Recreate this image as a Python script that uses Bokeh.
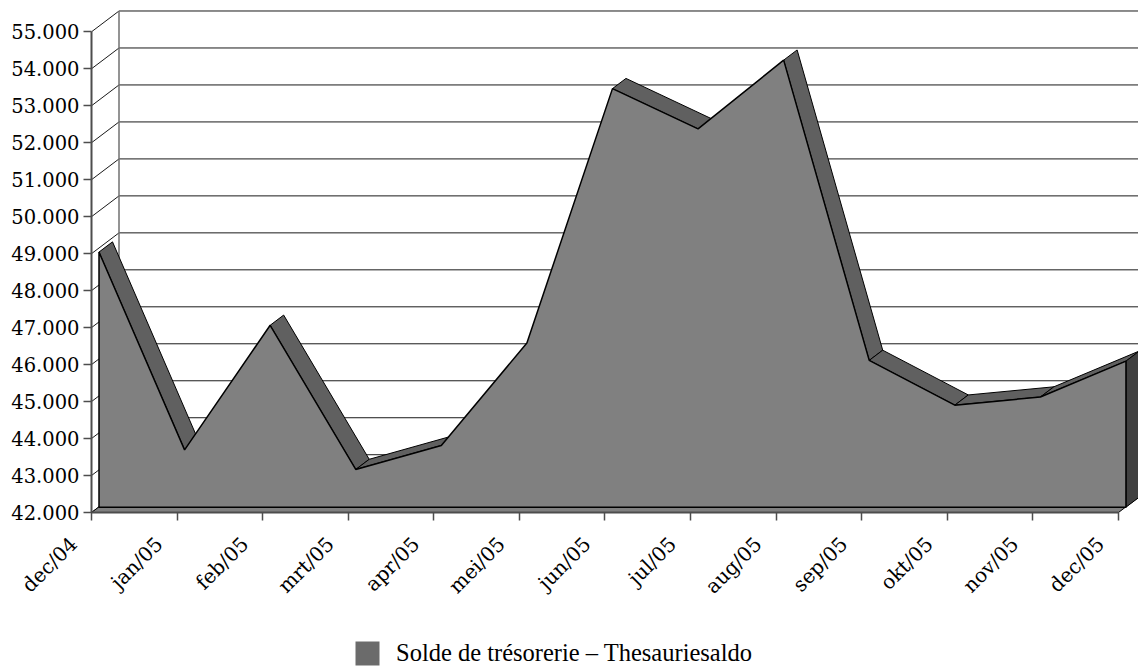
import math
from bokeh.plotting import figure
from bokeh.models import (Range1d, FixedTicker, CustomJSTickFormatter,
                          Legend, LegendItem)
from bokeh.embed import file_html
from bokeh.resources import INLINE

# ---------------- data ----------------
months = ["dec/04", "jan/05", "feb/05", "mrt/05", "apr/05", "mei/05", "jun/05",
          "jul/05", "aug/05", "sep/05", "okt/05", "nov/05", "dec/05"]
saldo = [48900, 43550, 46920, 43020, 43670, 46440, 53320,
         52230, 54090, 45970, 44760, 44980, 45950]
y_ticks = [42000, 43000, 44000, 45000, 46000, 47000, 48000,
           49000, 50000, 51000, 52000, 53000, 54000, 55000]
series_label = "Solde de trésorerie – Thesauriesaldo"

# ---------------- geometry (screen px) ----------------
PX_PER_CAT = 85.58       # px per category
PX_PER_VAL = 0.036977    # px per value unit
AXIS_X = 91              # screen column of the value axis
AXIS_Y = 512             # screen row of the category axis
WIDTH = 1138
HEIGHT = 666


def off(dx_px, dy_px):
    return dx_px / PX_PER_CAT, dy_px / PX_PER_VAL


WALL = off(27.5, 20.8)     # depth of the whole 3-D box
GAP = off(7.5, 5.3)        # gap between front plane and area front face
DEPTH = off(13.5, 10.2)    # thickness of the area

n = len(months)
y0 = y_ticks[0]
ytop = y0 + AXIS_Y / PX_PER_VAL
ybottom = y0 - (HEIGHT - AXIS_Y) / PX_PER_VAL
xstart = -AXIS_X / PX_PER_CAT
xend = (WIDTH - AXIS_X) / PX_PER_CAT

p = figure(width=WIDTH, height=HEIGHT,
           x_range=Range1d(xstart, xend), y_range=Range1d(ybottom, ytop),
           output_backend="svg", toolbar_location=None,
           min_border_left=0, min_border_right=0, min_border_top=0,
           min_border_bottom=0)
p.outline_line_color = None
p.grid.visible = False
p.background_fill_color = "white"
p.border_fill_color = "white"

LINE = "#1a1a1a"

# back wall gridlines
gy = [v + WALL[1] for v in y_ticks]
p.segment(x0=[WALL[0]] * len(y_ticks), y0=gy, x1=[xend + 1] * len(y_ticks), y1=gy,
          line_color=LINE, line_width=1)
# side wall diagonals
p.segment(x0=[0] * len(y_ticks), y0=y_ticks, x1=[WALL[0]] * len(y_ticks), y1=gy,
          line_color=LINE, line_width=1)
# back wall left edge
p.segment(x0=[WALL[0]], y0=[gy[0]], x1=[WALL[0]], y1=[gy[-1]],
          line_color="#707070", line_width=1.5)

# floor
p.patch(x=[0, n - 1, n - 1 + WALL[0], WALL[0]],
        y=[y0, y0, y0 + WALL[1], y0 + WALL[1]],
        fill_color="#808080", line_color="black", line_width=1)

# area front points
fx = [i + GAP[0] for i in range(n)]
fy = [v + GAP[1] for v in saldo]
base = y0 + GAP[1]

# top strips (only faces turned to the viewer)
depth_slope = 10.2 / 13.5
sx, sy = [], []
for i in range(n - 1):
    rise = (saldo[i + 1] - saldo[i]) * PX_PER_VAL / PX_PER_CAT
    if rise < depth_slope:
        sx.append([fx[i], fx[i + 1], fx[i + 1] + DEPTH[0], fx[i] + DEPTH[0]])
        sy.append([fy[i], fy[i + 1], fy[i + 1] + DEPTH[1], fy[i] + DEPTH[1]])
p.patches(xs=sx, ys=sy, fill_color="#606060", line_color="black", line_width=1)

# right end face
p.patch(x=[fx[-1], fx[-1], fx[-1] + DEPTH[0], fx[-1] + DEPTH[0]],
        y=[base, fy[-1], fy[-1] + DEPTH[1], base + DEPTH[1]],
        fill_color="#404040", line_color="black", line_width=1)

# front face
p.patch(x=[fx[0]] + fx + [fx[-1]], y=[base] + fy + [base],
        fill_color="#808080", line_color="black", line_width=1.5)

# ---------------- axes ----------------
yax = p.yaxis[0]
yax.fixed_location = 0
yax.ticker = FixedTicker(ticks=y_ticks)
yax.formatter = CustomJSTickFormatter(code="""
const s = Math.round(tick).toString();
return s.length > 3 ? s.slice(0, -3) + '.' + s.slice(-3) : s;
""")
yax.bounds = (y_ticks[0], y_ticks[-1])
yax.axis_line_color = "#4d4d4d"
yax.axis_line_width = 2
yax.major_tick_line_color = "#4d4d4d"
yax.major_tick_line_width = 1.5
yax.major_tick_out = 8
yax.major_tick_in = 0
yax.minor_tick_line_color = None
yax.major_label_text_font = "DejaVu Serif"
yax.major_label_text_font_size = "19.5px"
yax.major_label_text_color = "black"
yax.major_label_standoff = 4

xax = p.xaxis[0]
xax.fixed_location = y0
xax.ticker = FixedTicker(ticks=list(range(n)))
xax.formatter = CustomJSTickFormatter(args=dict(names=months), code="""
const k = Math.round(tick);
return (k >= 0 && k < names.length) ? names[k] + '\\u00a0\\u00a0\\u00a0\\u00a0' : '';
""")
xax.bounds = (0, n - 1)
xax.axis_line_color = "#4d4d4d"
xax.axis_line_width = 2
xax.major_tick_line_color = "#4d4d4d"
xax.major_tick_line_width = 1.5
xax.major_tick_out = 8
xax.major_tick_in = 0
xax.minor_tick_line_color = None
xax.major_label_orientation = math.pi / 4
xax.major_label_text_font = "DejaVu Serif"
xax.major_label_text_font_size = "20px"
xax.major_label_text_color = "black"
xax.major_label_standoff = 2

# ---------------- legend ----------------
swatch = p.patch(x=fx[:1], y=[base], fill_color="#6b6b6b", line_color=None)
legend = Legend(items=[LegendItem(label=series_label, renderers=[swatch])],
                location=(352, -2), orientation="horizontal",
                padding=0, margin=0, spacing=0,
                border_line_color=None, background_fill_alpha=0,
                glyph_width=30, glyph_height=30, label_height=30,
                label_standoff=14,
                label_text_font="Liberation Serif",
                label_text_font_size="24.5px",
                label_text_color="black")
p.add_layout(legend)

open("out.html", "w").write(file_html(p, INLINE))
